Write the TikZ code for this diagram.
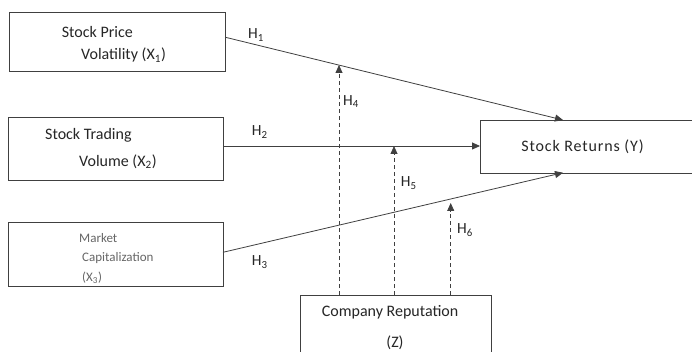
\documentclass[tikz,border=0pt]{standalone}
\usepackage{fontspec}
\setmainfont{Carlito}
\newfontfamily\spacedfont[LetterSpace=5.5]{Carlito}
\usetikzlibrary{arrows.meta,calc}
\begin{document}
\begin{tikzpicture}[x=1pt,y=-1pt,
  box/.style={draw=black!75, line width=0.9pt, inner sep=0pt, anchor=north west},
  openbox/.style={inner sep=0pt, anchor=north west},
  edge/.style={draw=black!75, line width=0.9pt},
  lbl/.style={inner sep=0pt, anchor=west, text=black!85, font=\fontsize{16}{18}\selectfont},
  small/.style={inner sep=0pt, anchor=west, text=black!60, font=\fontsize{13}{15}\selectfont},
  hlab/.style={inner sep=0pt, anchor=west, text=black!85, font=\fontsize{15.5}{17}\selectfont},
  link/.style={draw=black!75, line width=0.8pt, -{Triangle[length=8pt,width=7pt]}},
  modlink/.style={link, dash pattern=on 4pt off 3pt}]
\useasboundingbox (0,0) rectangle (692,352);
\fill[white] (0,0) rectangle (692,352);
% boxes
\node[box, minimum width=216pt, minimum height=58.4pt] (b1) at (9,12.3) {};
\node[box, minimum width=214.7pt, minimum height=63.3pt] (b2) at (8.3,116.7) {};
\node[box, minimum width=214.7pt, minimum height=64.3pt] (b3) at (8.3,221.7) {};
\node[openbox, minimum width=212pt, minimum height=52.7pt] (Y) at (480,120) {};
\node[openbox, minimum width=190pt, minimum height=57pt] (Z) at (300.7,295) {};
\path[edge] (Y.north east) -- (Y.north west) -- (Y.south west) -- (Y.south east);
\path[edge] (Z.south west) -- (Z.north west) -- (Z.north east) -- (Z.south east);
% texts
\node[lbl] (x1a) at (61.7,32) {Stock Price};
\node[lbl] (x1b) at (81,55) {Volatility (X\textsubscript{1})};
\node[lbl] (x2a) at (45,135) {Stock Trading};
\node[lbl] (x2b) at (79,161.7) {Volume (X\textsubscript{2})};
\node[small] (x3a) at (79,238) {Market};
\node[small] (x3b) at (82,258) {Capitalization};
\node[small] (x3c) at (82,278) {(X\textsubscript{3})};
\node[lbl, anchor=center, font=\fontsize{16}{18}\spacedfont] (yt) at (582.5,147) {Stock Returns (Y)};
\node[lbl] (za) at (321.7,312) {Company Reputation};
\node[lbl, anchor=center] (zb) at (395,343) {(Z)};
% coordinates
\coordinate (s1) at (225.5,37.3);
\coordinate (e1) at (563,120);
\coordinate (s2) at (223,146);
\coordinate (s3) at (223,252.3);
\coordinate (e3) at (563,172.7);
\coordinate (z4) at (339,295);
\coordinate (z5) at (394,295);
\coordinate (z6) at (450.7,295);
\coordinate (t4) at (339,65);
\coordinate (t5) at (394,146);
\coordinate (t6) at (450.7,203);
% direct links
\draw[link] (s1) -- (e1);
\draw[link] (s2) -- (Y.west |- s2);
\draw[link] (s3) -- (e3);
% moderating links
\draw[modlink] (z4) -- (t4);
\draw[modlink] (z5) -- (t5);
\draw[modlink] (z6) -- (t6);
% labels
\node[hlab] (h1) at (248,35) {H\textsubscript{1}};
\node[hlab] (h2) at (251.7,132) {H\textsubscript{2}};
\node[hlab] (h3) at (251.7,262) {H\textsubscript{3}};
\node[hlab] (h4) at (343,101.7) {H\textsubscript{4}};
\node[hlab] (h5) at (400.7,183) {H\textsubscript{5}};
\node[hlab] (h6) at (457,230) {H\textsubscript{6}};
\end{tikzpicture}
\end{document}
